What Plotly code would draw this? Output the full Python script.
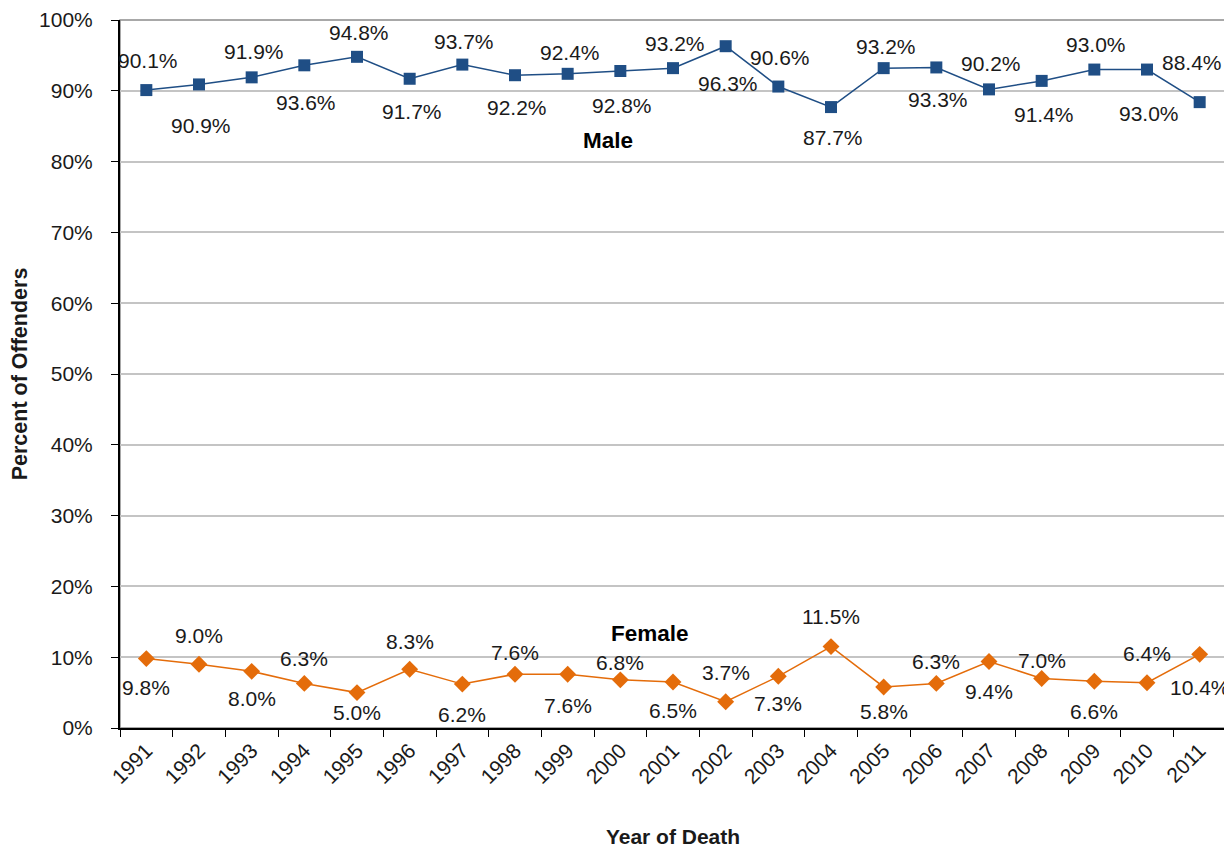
import plotly.graph_objects as go

years = [str(y) for y in range(1991, 2012)]
male = [90.1, 90.9, 91.9, 93.6, 94.8, 91.7, 93.7, 92.2, 92.4, 92.8, 93.2,
        96.3, 90.6, 87.7, 93.2, 93.3, 90.2, 91.4, 93.0, 93.0, 88.4]
female = [9.8, 9.0, 8.0, 6.3, 5.0, 8.3, 6.2, 7.6, 7.6, 6.8, 6.5,
          3.7, 7.3, 11.5, 5.8, 6.3, 9.4, 7.0, 6.6, 6.4, 10.4]
y_ticks = [0, 10, 20, 30, 40, 50, 60, 70, 80, 90, 100]

# label placement (pixels, + = above the point)
male_label_dy = [30, -41, 26, -37, 24, -33, 23, -32, 21, -35, 25,
                 -37, 29, -30, 22, -32, 26, -34, 25, -44, 40]
female_label_dy = [-29, 29, -27, 25, -20, 28, -30, 22, -31, 17, -29,
                   29, -27, 30, -25, 22, -30, 18, -30, 29, -33]

FONT = "Liberation Sans, Arial, sans-serif"
BLUE = "#1F4E85"
ORANGE = "#E46C0A"

# the page body has an 8px margin; compensate so the figure lands at the window origin
OFF = 8

fig = go.Figure()
fig.add_trace(go.Scatter(x=years, y=male, mode="lines+markers",
                         line=dict(color=BLUE, width=1.5),
                         marker=dict(symbol="square", size=12, color=BLUE),
                         name="Male", showlegend=False))
fig.add_trace(go.Scatter(x=years, y=female, mode="lines+markers",
                         line=dict(color=ORANGE, width=1.5),
                         marker=dict(symbol="diamond", size=13, color=ORANGE),
                         name="Female", showlegend=False))

annotations = []
n = len(years)
for i, v in enumerate(male):
    annotations.append(dict(x=i, y=v, xref="x", yref="y", text=f"{v:.1f}%", showarrow=False,
                            xshift=(-8 if i == n - 1 else 2),
                            yshift=male_label_dy[i],
                            font=dict(family=FONT, size=21, color="#1a1a1a")))
for i, v in enumerate(female):
    annotations.append(dict(x=i, y=v, xref="x", yref="y", text=f"{v:.1f}%", showarrow=False,
                            xshift=0,
                            yshift=female_label_dy[i],
                            font=dict(family=FONT, size=21, color="#1a1a1a")))
annotations.append(dict(x=8.77, y=83, xref="x", yref="y", text="<b>Male</b>", showarrow=False,
                        font=dict(family=FONT, size=22.5, color="black")))
annotations.append(dict(x=9.56, y=13.4, xref="x", yref="y", text="<b>Female</b>", showarrow=False,
                        font=dict(family=FONT, size=22.5, color="black")))

fig.update_layout(
    width=1232 - OFF, height=848 - OFF,
    margin=dict(l=120 - OFF, r=6, t=20 - OFF, b=120),
    paper_bgcolor="white", plot_bgcolor="white",
    font=dict(family=FONT, size=21, color="#1a1a1a"),
    annotations=annotations,
    shapes=[dict(type="rect", xref="paper", yref="paper", x0=0, x1=1, y0=0, y1=1,
                 line=dict(color="#8c8c8c", width=1.5), layer="below")],
    xaxis=dict(type="category", range=[-0.5, n - 0.5], tickangle=-45,
               ticks="outside", tickson="boundaries", ticklen=7, tickcolor="black",
               showline=True, linecolor="black", linewidth=2, showgrid=False,
               automargin=False,
               tickfont=dict(family=FONT, size=21),
               title=dict(text="<b>Year of Death</b>", font=dict(family=FONT, size=21), standoff=42)),
    yaxis=dict(range=[0, 100], tickvals=y_ticks, ticktext=[f"{t}%" for t in y_ticks],
               ticks="outside", ticklen=7, tickcolor="black",
               showline=True, linecolor="black", linewidth=2,
               showgrid=True, gridcolor="#c4c4c4", gridwidth=1.5,
               automargin=False, ticklabelstandoff=14,
               tickfont=dict(family=FONT, size=21),
               title=dict(text="<b>Percent of Offenders</b>", font=dict(family=FONT, size=21.5), standoff=19)),
)

fig.write_html("out.html")
